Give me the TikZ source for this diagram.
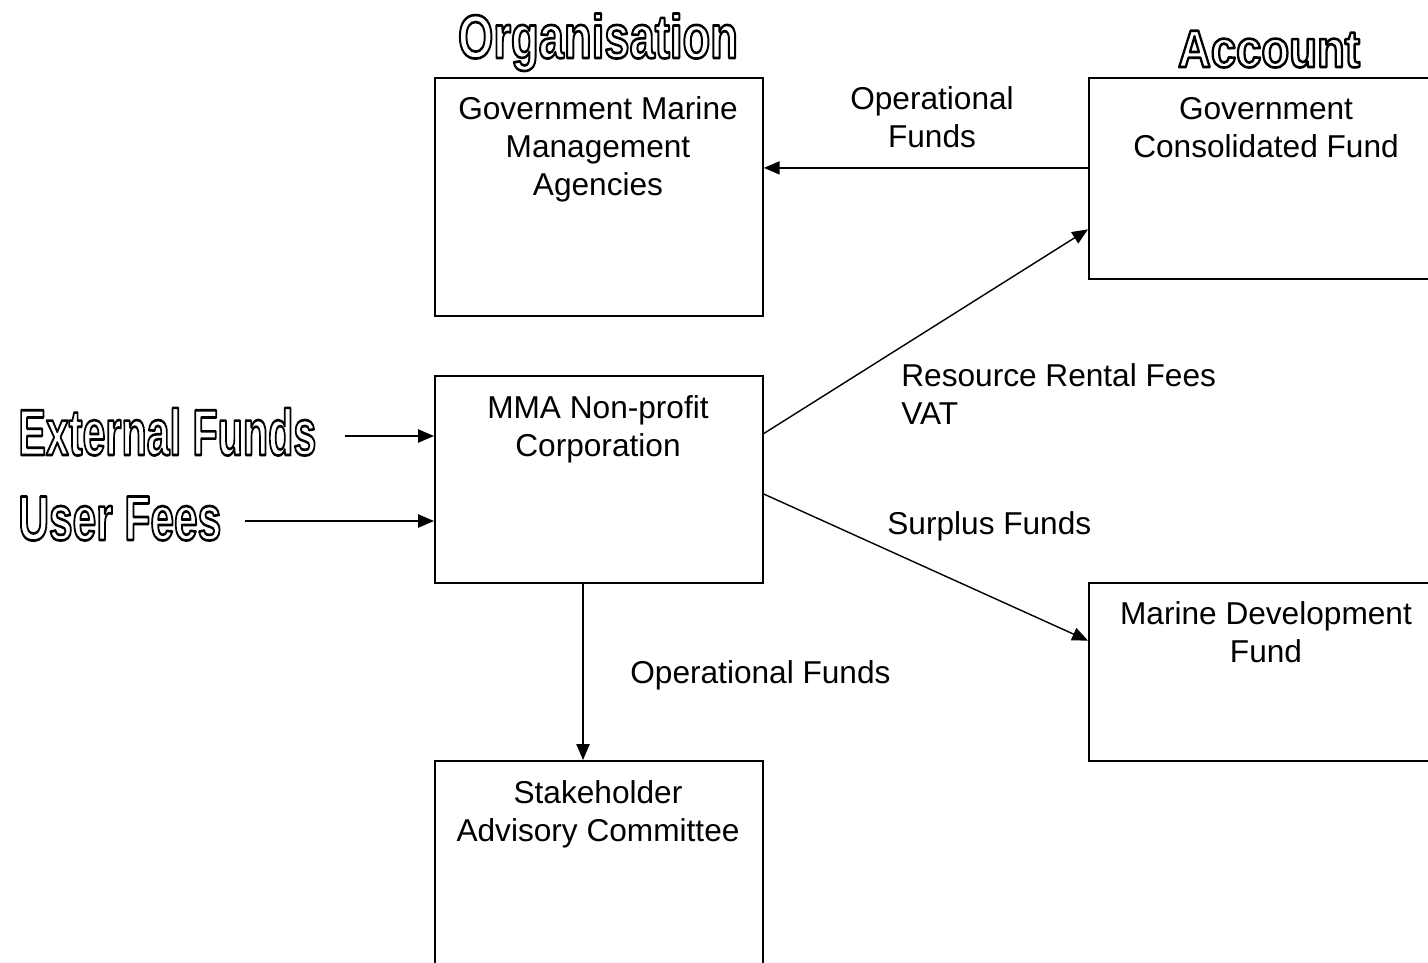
\documentclass[tikz,border=0pt]{standalone}
\usepackage{fontspec}
\usepackage{graphicx}
\setmainfont{Liberation Sans}
\usetikzlibrary{arrows.meta,calc}
\newcommand\hollowtext[1]{\special{pdf:code 1 Tr 1.5 w 1 j}#1\special{pdf:code 0 Tr}}
\newcommand\headtext[3]{\resizebox{#1}{\height}{\fontsize{#2}{#2}\selectfont\bfseries\hollowtext{#3}}}
\tikzset{
  box/.style={draw, line width=1.1pt, rectangle, inner sep=0pt, anchor=north west},
  lbl/.style={inner sep=0pt, font=\fontsize{18}{21.6}\selectfont},
  head/.style={inner sep=0pt},
  arr/.style={line width=0.8pt, -{Triangle[length=9pt,width=7.5pt]}},
}
\begin{document}
\begin{tikzpicture}[x=0.02cm,y=-0.02cm]
\useasboundingbox (0,0) rectangle (1428,963);
\clip (0,0) rectangle (1428,963);
% boxes
\node[box, minimum width=6.56cm, minimum height=4.76cm] (gmma) at (434,77) {};
\node[box, minimum width=7.04cm, minimum height=4.02cm] (gcf) at (1088,77) {};
\node[box, minimum width=6.56cm, minimum height=4.14cm] (mma) at (434,375) {};
\node[box, minimum width=7.04cm, minimum height=3.56cm] (mdf) at (1088,582) {};
\node[box, minimum width=6.56cm, minimum height=4.4cm] (sac) at (434,760) {};
% box texts
\node[lbl, anchor=north, align=center] (tgmma) at (598,96) {Government Marine\\Management\\Agencies};
\node[lbl, anchor=north, align=center] (tgcf) at (1266,97) {Government\\Consolidated Fund};
\node[lbl, anchor=north, align=center] (tmma) at (598,395) {MMA Non-profit\\Corporation};
\node[lbl, anchor=north, align=center] (tmdf) at (1266,601) {Marine Development\\Fund};
\node[lbl, anchor=north, align=center] (tsac) at (598,780) {Stakeholder\\Advisory Committee};
% connector labels
\node[lbl, anchor=north, align=center] (lof1) at (932,86) {Operational\\Funds};
\node[lbl, anchor=north west, align=left] (lrrf) at (901,363) {Resource Rental Fees\\VAT};
\node[lbl, anchor=north west] (lsf) at (887,511) {Surplus Funds};
\node[lbl, anchor=north west] (lof2) at (630,660) {Operational Funds};
% headings
\node[head, anchor=base] (horg) at (598,58) {\headtext{5.6cm}{35}{Organisation}};
\node[head, anchor=base] (hacc) at (1269,67) {\headtext{3.64cm}{30}{Account}};
\node[head, anchor=base west] (hext) at (18,455) {\headtext{5.96cm}{37}{External Funds}};
\node[head, anchor=base west] (huser) at (18,540) {\headtext{4.06cm}{36}{User Fees}};
% connectors
\coordinate (p1) at ($(gcf.north west)!0.448!(gcf.south west)$);
\draw[arr] (p1) -- (p1 -| gmma.east);
\draw[arr] ($(mma.north east)!0.28!(mma.south east)$) -- ($(gcf.north west)!0.751!(gcf.south west)$);
\draw[arr] ($(mma.north east)!0.57!(mma.south east)$) -- ($(mdf.north west)!0.326!(mdf.south west)$);
\coordinate (p4) at ($(mma.south west)+(149,0)$);
\draw[arr] (p4) -- (p4 |- sac.north);
\coordinate (e1) at (345,436);
\draw[arr] (e1) -- (e1 -| mma.west);
\coordinate (u1) at (245,521);
\draw[arr] (u1) -- (u1 -| mma.west);
\end{tikzpicture}
\end{document}
